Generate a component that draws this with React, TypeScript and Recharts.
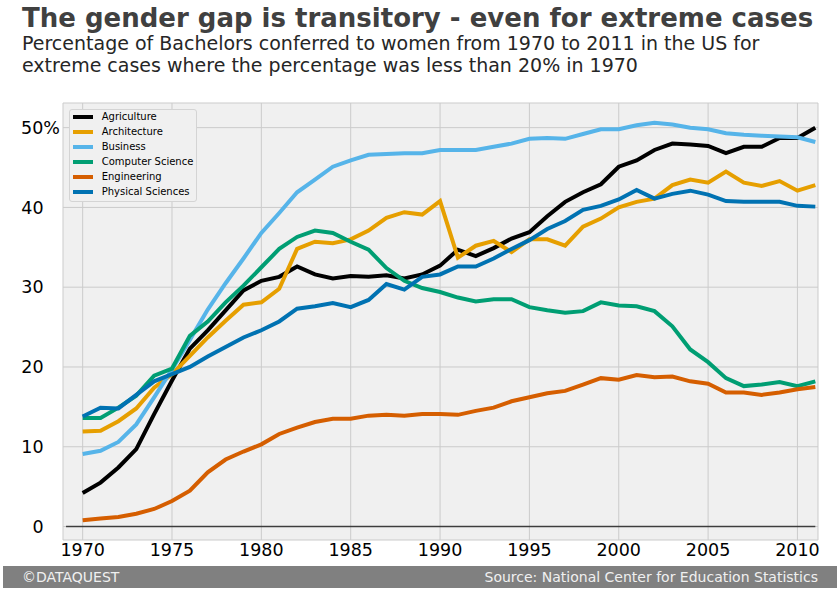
import React from "react";
import { CartesianGrid, Line, LineChart, ReferenceLine, XAxis, YAxis } from "recharts";

const years = [
  1970, 1971, 1972, 1973, 1974, 1975, 1976, 1977, 1978, 1979, 1980, 1981, 1982, 1983,
  1984, 1985, 1986, 1987, 1988, 1989, 1990, 1991, 1992, 1993, 1994, 1995, 1996, 1997,
  1998, 1999, 2000, 2001, 2002, 2003, 2004, 2005, 2006, 2007, 2008, 2009, 2010, 2011,
];

const agriculture = [
  4.2, 5.5, 7.4, 9.7, 14.1, 18.3, 22.3, 24.6, 27.1, 29.6, 30.8, 31.3, 32.6, 31.6, 31.1,
  31.4, 31.3, 31.5, 31.1, 31.6, 32.7, 34.7, 33.9, 34.9, 36.1, 36.9, 38.9, 40.7, 41.9,
  42.9, 45.1, 45.9, 47.2, 48.0, 47.9, 47.7, 46.8, 47.6, 47.6, 48.7, 48.7, 50.0,
];
const architecture = [
  11.9, 12.0, 13.2, 14.8, 17.4, 19.1, 21.4, 23.7, 25.8, 27.8, 28.1, 29.8, 34.8, 35.7,
  35.5, 36.0, 37.1, 38.7, 39.4, 39.1, 40.8, 33.7, 35.2, 35.8, 34.4, 36.0, 36.0, 35.2,
  37.6, 38.6, 40.0, 40.7, 41.1, 42.8, 43.5, 43.1, 44.5, 43.1, 42.7, 43.3, 42.1, 42.8,
];
const business = [
  9.1, 9.5, 10.6, 12.8, 16.2, 19.7, 23.4, 27.2, 30.5, 33.6, 36.8, 39.3, 41.9, 43.5,
  45.1, 45.9, 46.6, 46.7, 46.8, 46.8, 47.2, 47.2, 47.2, 47.6, 48.0, 48.6, 48.7, 48.6,
  49.2, 49.8, 49.8, 50.3, 50.6, 50.4, 50.0, 49.8, 49.3, 49.1, 49.0, 48.9, 48.8, 48.2,
];
const computerScience = [
  13.6, 13.6, 14.9, 16.4, 18.9, 19.8, 23.9, 25.7, 28.1, 30.2, 32.5, 34.8, 36.3, 37.1,
  36.8, 35.7, 34.7, 32.4, 30.8, 29.9, 29.4, 28.7, 28.2, 28.5, 28.5, 27.5, 27.1, 26.8,
  27.0, 28.1, 27.7, 27.6, 27.0, 25.1, 22.2, 20.6, 18.6, 17.6, 17.8, 18.1, 17.6, 18.2,
];
const engineering = [
  0.8, 1.0, 1.2, 1.6, 2.2, 3.2, 4.5, 6.8, 8.4, 9.4, 10.3, 11.6, 12.4, 13.1, 13.5, 13.5,
  13.9, 14.0, 13.9, 14.1, 14.1, 14.0, 14.5, 14.9, 15.7, 16.2, 16.7, 17.0, 17.8, 18.6,
  18.4, 19.0, 18.7, 18.8, 18.2, 17.9, 16.8, 16.8, 16.5, 16.8, 17.2, 17.5,
];
const physicalSciences = [
  13.8, 14.9, 14.8, 16.5, 18.2, 19.1, 20.0, 21.3, 22.5, 23.7, 24.6, 25.7, 27.3, 27.6,
  28.0, 27.5, 28.4, 30.4, 29.7, 31.3, 31.6, 32.6, 32.6, 33.6, 34.8, 35.9, 37.3, 38.3,
  39.7, 40.2, 41.0, 42.2, 41.1, 41.7, 42.1, 41.6, 40.8, 40.7, 40.7, 40.7, 40.2, 40.1,
];

const xTicks = [1970, 1975, 1980, 1985, 1990, 1995, 2000, 2005, 2010];
const yTicks = [0, 10, 20, 30, 40, 50];

const series = [
  { key: "agriculture", name: "Agriculture", color: "#000000", values: agriculture },
  { key: "architecture", name: "Architecture", color: "#E69F00", values: architecture },
  { key: "business", name: "Business", color: "#56B4E9", values: business },
  { key: "computerScience", name: "Computer Science", color: "#009E73", values: computerScience },
  { key: "engineering", name: "Engineering", color: "#D55E00", values: engineering },
  { key: "physicalSciences", name: "Physical Sciences", color: "#0072B2", values: physicalSciences },
];

const data = years.map((year, i) => {
  const row: Record<string, number> = { year };
  series.forEach((s) => {
    row[s.key] = s.values[i];
  });
  return row;
});

const FONT = "'DejaVu Sans', sans-serif";

const XTick = ({ x, y, payload }: any) => (
  <text x={x} y={y + 16} textAnchor="middle" fontSize={17.5} fontFamily={FONT} fill="#000">
    {payload.value}
  </text>
);

// trailing spaces on the numbers in the original, so "50%" lines up further right
const YTick = ({ x, y, payload }: any) => {
  const is50 = payload.value === 50;
  return (
    <text
      x={is50 ? x - 3 : x - 19.4}
      y={y + 6.3}
      textAnchor="end"
      fontSize={17.5}
      fontFamily={FONT}
      fill="#000"
    >
      {is50 ? "50%" : payload.value}
    </text>
  );
};

export default function App() {
  return (
    <div
      style={{
        position: "absolute",
        left: 0,
        top: 0,
        width: 840,
        height: 591,
        background: "#ffffff",
        fontFamily: FONT,
        overflow: "hidden",
      }}
    >
      <LineChart
        width={840}
        height={591}
        data={data}
        margin={{ top: 103, right: 22, bottom: 0, left: 0 }}
      >
        <CartesianGrid fill="#f0f0f0" stroke="#cbcbcb" strokeWidth={1} />
        <XAxis
          dataKey="year"
          type="number"
          domain={[1968.9, 2011.15]}
          ticks={xTicks}
          allowDataOverflow
          height={51}
          tickSize={0}
          tickMargin={0}
          axisLine={false}
          tickLine={false}
          tick={<XTick />}
        />
        <YAxis
          type="number"
          domain={[-1.69, 53.09]}
          ticks={yTicks}
          allowDataOverflow
          width={63}
          tickSize={0}
          tickMargin={0}
          axisLine={false}
          tickLine={false}
          tick={<YTick />}
        />
        <ReferenceLine
          segment={[
            { x: 1969.07, y: 0 },
            { x: 2011, y: 0 },
          ]}
          stroke="#000"
          strokeOpacity={0.7}
          strokeWidth={1.3}
        />
        {series.map((s) => (
          <Line
            key={s.key}
            type="linear"
            dataKey={s.key}
            name={s.name}
            stroke={s.color}
            strokeWidth={4}
            dot={false}
            activeDot={false}
            isAnimationActive={false}
          />
        ))}
      </LineChart>

      <svg
        width={840}
        height={591}
        style={{ position: "absolute", left: 0, top: 0, pointerEvents: "none" }}
      >
        <text x={22} y={27} fontSize={26} fontWeight="bold" fill="#404040" fontFamily={FONT}>
          The gender gap is transitory - even for extreme cases
        </text>
        <text x={22} y={50} fontSize={19} fill="#262626" fontFamily={FONT}>
          Percentage of Bachelors conferred to women from 1970 to 2011 in the US for
        </text>
        <text x={22} y={72} fontSize={19} fill="#262626" fontFamily={FONT}>
          extreme cases where the percentage was less than 20% in 1970
        </text>
        <rect x={3} y={566} width={834} height={22} fill="#808080" />
        <text x={22} y={581.7} fontSize={14} fill="#f0f0f0" fontFamily={FONT}>
          ©DATAQUEST
        </text>
        <text x={818} y={581.7} fontSize={14} fill="#f0f0f0" textAnchor="end" fontFamily={FONT}>
          Source: National Center for Education Statistics
        </text>
      </svg>

      <div
        style={{
          position: "absolute",
          left: 69,
          top: 109,
          width: 128,
          height: 93,
          boxSizing: "border-box",
          border: "1px solid #d4d4d4",
          borderRadius: 3,
          background: "#f0f0f0",
        }}
      >
        {series.map((s, i) => (
          <div
            key={s.key}
            style={{
              position: "absolute",
              left: 0,
              top: 6.7 + i * 15.1 - 7,
              height: 14,
              width: 126,
            }}
          >
            <div
              style={{
                position: "absolute",
                left: 3,
                top: 5,
                width: 20,
                height: 4,
                background: s.color,
              }}
            />
            <div
              style={{
                position: "absolute",
                left: 31.7,
                top: 0,
                height: 14,
                lineHeight: "14px",
                fontSize: 10,
                color: "#000",
                whiteSpace: "nowrap",
              }}
            >
              {s.name}
            </div>
          </div>
        ))}
      </div>
    </div>
  );
}
